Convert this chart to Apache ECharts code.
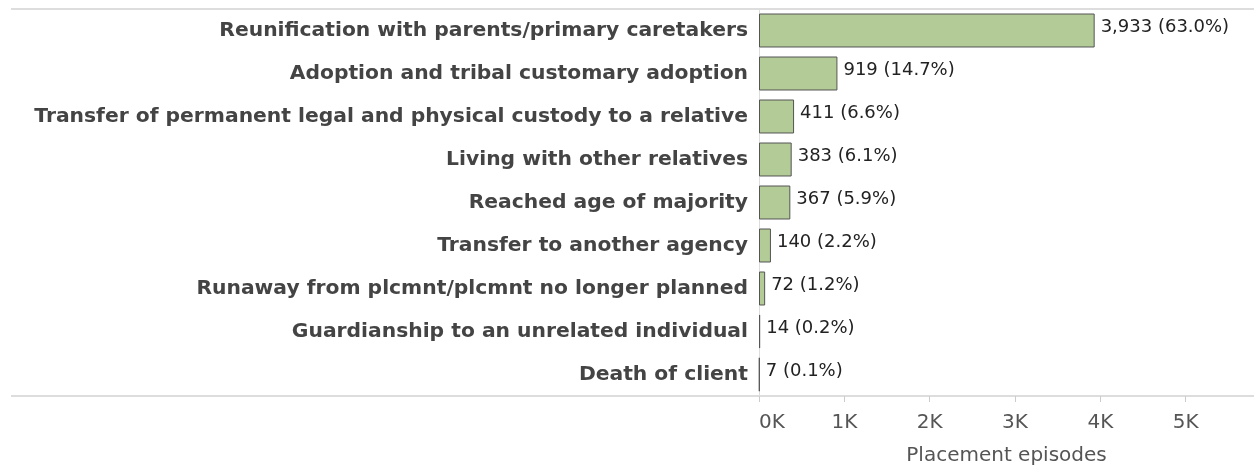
<!DOCTYPE html>
<html>
<head>
<meta charset="utf-8">
<script src="https://cdn.jsdelivr.net/npm/echarts@6/dist/echarts.min.js"></script>
<style>
html, body { margin: 0; padding: 0; background: #fff; }
#chart { width: 1254px; height: 467px; }
</style>
</head>
<body>
<div id="chart"></div>
<script>
// reasons, top to bottom as in the picture
var reasons = [
	"Reunification with parents/primary caretakers",
	"Adoption and tribal customary adoption",
	"Transfer of permanent legal and physical custody to a relative",
	"Living with other relatives",
	"Reached age of majority",
	"Transfer to another agency",
	"Runaway from plcmnt/plcmnt no longer planned",
	"Guardianship to an unrelated individual",
	"Death of client"
];
var episodes = [3933, 919, 411, 383, 367, 140, 72, 14, 7];
var shares = ["63.0%", "14.7%", "6.6%", "6.1%", "5.9%", "2.2%", "1.2%", "0.2%", "0.1%"];
var tickLabels = ["0K", "1K", "2K", "3K", "4K", "5K"];

var font = "DejaVu Sans, Verdana, sans-serif";

var myChart = echarts.init(document.getElementById("chart"));
var options = {
	animation: false,
	textStyle: { fontFamily: font },
	grid: { left: 759, right: 0, top: 9, bottom: 71, outerBoundsMode: "none" },
	xAxis: {
		type: "value",
		min: 0,
		max: 5800,
		interval: 1000,
		name: "Placement episodes",
		nameLocation: "middle",
		nameGap: 50,
		nameTextStyle: { color: "#555", fontSize: 20, fontFamily: font },
		axisLine: { show: false },
		axisTick: { show: true, length: 6, lineStyle: { color: "#ccc" } },
		splitLine: { show: false },
		axisLabel: {
			color: "#555",
			fontSize: 20,
			margin: 17,
			showMaxLabel: false,
			alignMinLabel: "left",
			formatter: function (v) {
				return tickLabels[v / 1000] || "";
			}
		}
	},
	yAxis: {
		type: "category",
		inverse: true,
		data: reasons,
		axisLine: { show: true, lineStyle: { color: "#ddd", width: 1 } },
		axisTick: { show: false },
		splitLine: { show: false },
		axisLabel: {
			color: "#444",
			fontSize: 20.3,
			fontWeight: "bold",
			margin: 11
		}
	},
	graphic: [
		{ type: "line", shape: { x1: 11, y1: 9, x2: 1254, y2: 9 }, style: { stroke: "#ddd", lineWidth: 2 }, silent: true },
		{ type: "line", shape: { x1: 11, y1: 396, x2: 1254, y2: 396 }, style: { stroke: "#ddd", lineWidth: 2 }, silent: true }
	],
	series: [{
		type: "bar",
		data: episodes,
		barCategoryGap: "21%",
		itemStyle: { color: "#b3cb96", borderColor: "#555", borderWidth: 1 },
		label: {
			show: true,
			position: "right",
			distance: 6,
			color: "#222",
			fontSize: 18,
			offset: [0, -3],
			formatter: function (p) {
				return p.value.toLocaleString("en-US") + " (" + shares[p.dataIndex] + ")";
			}
		}
	}]
};
myChart.setOption(options);
</script>
</body>
</html>
